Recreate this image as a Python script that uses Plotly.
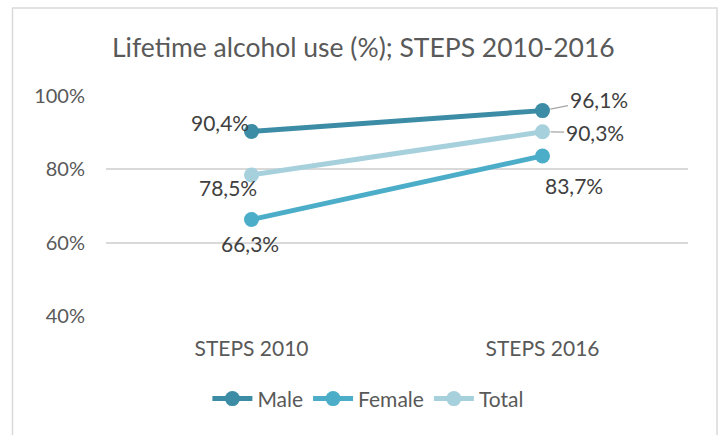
import plotly.graph_objects as go

categories = ["STEPS 2010", "STEPS 2016"]
male = [0.904, 0.961]
female = [0.663, 0.837]
total = [0.785, 0.903]
series_names = ["Male", "Female", "Total"]
tick_vals = [0.4, 0.6, 0.8, 1.0]
tick_text = ["40%", "60%", "80%", "100%"]
title_text = "Lifetime alcohol use (%); STEPS 2010-2016"

colors = ["#3B8CA4", "#4BADC8", "#A7D0DD"]
FONT = "Lato"

fig = go.Figure()
for name, vals, col in zip(series_names, [male, female, total], colors):
    fig.add_trace(go.Scatter(
        x=categories, y=vals, name=name, mode="lines+markers",
        line=dict(color=col, width=5),
        marker=dict(color=col, size=15),
        hoverinfo="skip",
    ))

def fmt(v):
    return f"{v*100:.1f}%".replace(".", ",")

# label placement: (series values, index, xshift, yshift (up positive), arrow?)
label_style = [
    (male, 0, -32, 9, False),
    (total, 0, -24, -13, False),
    (female, 0, -2, -24, False),
    (male, 1, 56, 11, True),
    (total, 1, 52, -1, True),
    (female, 1, 31, -30, False),
]
annotations = []
for vals, i, dx, dy, arrow in label_style:
    if arrow:
        annotations.append(dict(
            x=categories[i], y=vals[i], xref="x", yref="y",
            text=fmt(vals[i]), showarrow=True, ax=dx, ay=-dy,
            arrowhead=0, arrowwidth=1.3, arrowcolor="#A6A6A6", standoff=8,
            font=dict(family=FONT, size=21, color="#404040"),
        ))
    else:
        annotations.append(dict(
            x=categories[i], y=vals[i], xref="x", yref="y",
            text=fmt(vals[i]), showarrow=False, xshift=dx, yshift=dy,
            font=dict(family=FONT, size=21, color="#404040"),
        ))

annotations.append(dict(
    x=(363 - 106) / 582, y=(316 - 47) / 220, xref="paper", yref="paper",
    text=title_text, showarrow=False, xanchor="center", yanchor="middle",
    font=dict(family=FONT, size=26.5, color="#595959"),
))

fig.update_layout(
    width=720, height=435,
    margin=dict(l=106, r=32, t=96, b=119),
    paper_bgcolor="white", plot_bgcolor="white",
    showlegend=True,
    legend=dict(orientation="h", x=0.45, xanchor="center", y=-0.377, yanchor="middle",
                font=dict(family=FONT, size=21, color="#595959"),
                itemwidth=40, tracegroupgap=0),
    annotations=annotations,
    shapes=[dict(type="rect", xref="paper", yref="paper",
                 x0=(12.5 - 106) / 582, x1=(717 - 106) / 582,
                 y0=(316 - 440) / 220, y1=(316 - 8) / 220,
                 line=dict(color="#D9D9D9", width=1.5), fillcolor="rgba(0,0,0,0)",
                 layer="below")],
)
fig.update_xaxes(type="category", range=[-0.5, 1.5], showgrid=False, zeroline=False,
                 showline=False, ticks="", ticklabelstandoff=18,
                 tickfont=dict(family=FONT, size=21, color="#595959"))
fig.update_yaxes(range=[0.399, 1.001], tickvals=tick_vals, ticktext=tick_text,
                 showgrid=True, gridcolor="#D9D9D9", gridwidth=1.5,
                 zeroline=False, showline=False, ticks="", ticklabelstandoff=20,
                 tickfont=dict(family=FONT, size=20, color="#595959"))

fig.write_html("out.html")
